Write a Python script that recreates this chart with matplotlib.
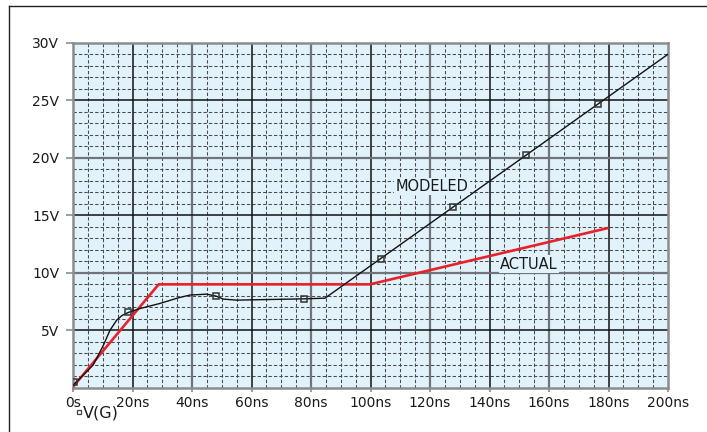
import matplotlib
matplotlib.use("Agg")
import matplotlib.pyplot as plt
from matplotlib.lines import Line2D
import numpy as np

# ---- data ----
modeled_t = [0, 3, 6.8, 10.2, 12.4, 14.7, 16.5, 18.6, 22.5, 29.2, 35.4, 39.3,
             44.9, 48.1, 50.5, 55, 77.4, 84.7, 200]
modeled_v = [0.25, 1.0, 2.0, 3.7, 5.0, 5.9, 6.3, 6.56, 6.9, 7.34, 7.83, 8.07,
             8.15, 7.98, 7.72, 7.63, 7.74, 7.8, 28.98]
marker_t = [0.5, 18.6, 48.1, 77.5, 103.5, 127.7, 152.2, 176.6]
marker_v = [0.5, 6.56, 7.98, 7.76, 11.2, 15.7, 20.2, 24.65]
actual_t = [0, 28.8, 99.8, 180]
actual_v = [0.1, 9.0, 9.0, 13.9]

x_ticks = [0, 20, 40, 60, 80, 100, 120, 140, 160, 180, 200]
x_labels = ["0s", "20ns", "40ns", "60ns", "80ns", "100ns", "120ns", "140ns",
            "160ns", "180ns", "200ns"]
y_ticks = [5, 10, 15, 20, 25, 30]
y_labels = ["5V", "10V", "15V", "20V", "25V", "30V"]

FONT = "DejaVu Sans"
BG = "#e1f2fb"
RED = "#e8222b"
TXT = "#1a1a1a"

fig = plt.figure(figsize=(7.07, 4.32), dpi=100)
ax = fig.add_axes([73 / 707, 44 / 432, 595 / 707, 345.5 / 432])
ax.set_facecolor(BG)
ax.set_xlim(0, 200)
ax.set_ylim(0, 30)

# minor dashed grid
for xm in np.arange(5, 200, 5):
    if xm % 20:
        ax.axvline(xm, color="#4a4a4a", lw=0.75, ls=(0, (3.2, 2)), zorder=1)
for ym in np.arange(1, 30, 1):
    if ym % 5:
        ax.axhline(ym, color="#4a4a4a", lw=0.75, ls=(0, (3.2, 2)), zorder=1)
# major grid
for xm in range(20, 200, 20):
    if (xm // 20) % 2 == 0:
        ax.axvline(xm, color="#707478", lw=1.6, zorder=1.5)
    else:
        ax.axvline(xm, color="#111111", lw=1.1, zorder=1.5)
for ym in range(5, 30, 5):
    if (ym // 5) % 2 == 0:
        ax.axhline(ym, color="#707478", lw=1.6, zorder=1.5)
    else:
        ax.axhline(ym, color="#111111", lw=1.1, zorder=1.5)

for s in ax.spines.values():
    s.set_color("#8a8c8e")
    s.set_linewidth(1.8)

ax.set_xticks(x_ticks)
ax.set_xticklabels(x_labels)
ax.set_yticks(y_ticks)
ax.set_yticklabels(y_labels)
ax.tick_params(axis="both", width=1.2, color="#8a8c8e",
               labelsize=10, labelcolor=TXT)
ax.tick_params(axis="x", length=3, pad=3)
ax.tick_params(axis="y", length=5, pad=5)
for lab in ax.get_xticklabels() + ax.get_yticklabels():
    lab.set_fontfamily(FONT)

# curves
ax.plot(actual_t, actual_v, color=RED, lw=1.9, zorder=3, solid_capstyle="butt")
ax.plot(modeled_t, modeled_v, color="#111111", lw=1.0, zorder=4)
ax.plot(marker_t, marker_v, ls="none", marker="s", ms=4.5, mfc="none",
        mec="#333333", mew=1.1, zorder=5)

# annotations
ax.text(120.7, 17.5, "MODELED", fontsize=10.5, family=FONT, color=TXT,
        ha="center", va="center", zorder=6,
        bbox=dict(facecolor=BG, edgecolor="none", pad=1.0))
ax.text(153.3, 10.75, "ACTUAL", fontsize=10.5, family=FONT, color=TXT,
        ha="center", va="center", zorder=6,
        bbox=dict(facecolor=BG, edgecolor="none", pad=1.0))

# legend entry below axis
fig.text(83 / 707, 1 - 413 / 432, "V(G)", fontsize=11.5, family=FONT,
         color=TXT, ha="left", va="center")
fig.add_artist(Line2D([78.5 / 707], [1 - 412 / 432], marker="s", ms=3.5,
                      mfc="white", mec="#444444", mew=0.9, ls="none",
                      transform=fig.transFigure))

# outer frame lines (top and left)
fig.add_artist(Line2D([9 / 707, 1.0], [1 - 5.5 / 432, 1 - 5.5 / 432],
                      color="#222222", lw=1.0, transform=fig.transFigure))
fig.add_artist(Line2D([9 / 707, 9 / 707], [0, 1 - 5.5 / 432],
                      color="#222222", lw=1.0, transform=fig.transFigure))

fig.savefig("out.png", dpi=100)
